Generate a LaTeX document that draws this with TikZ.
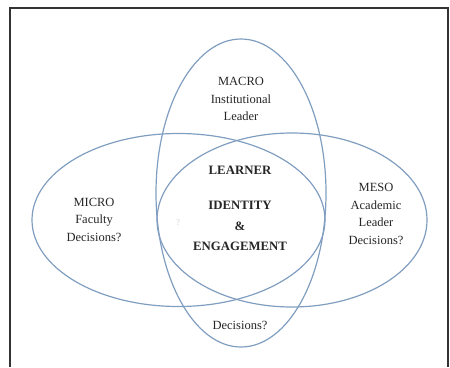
\documentclass[tikz,border=0pt]{standalone}
\usepackage{fontspec}
\setmainfont{Liberation Serif}

\begin{document}
\begin{tikzpicture}[
  x=1pt, y=-1pt,
  ring/.style={draw={rgb,255:red,128;green,158;blue,192}, line width=1.2pt},
  lbl/.style={align=center, inner sep=0pt, text=black!85, font=\fontsize{12.5}{17.5}\selectfont},
  core/.style={align=center, inner sep=0pt, text=black!85, font=\fontsize{12.8}{20.5}\selectfont\bfseries},
]

\useasboundingbox (0,0) rectangle (450,367);
\draw [line width=1.2pt, black!80] (10,367) -- (10,8) -- (448,8) -- (448,367);

\draw [ring] (178.5,220) ellipse [x radius=146.5pt, y radius=86.5pt];
\draw [ring] (292,220) ellipse [x radius=135pt, y radius=87pt];
\draw [ring] (241,193) ellipse [x radius=85pt, y radius=154pt];

\node [lbl] (macro) at (241,99) {MACRO\\Institutional\\Leader};
\node [lbl] (micro) at (94,219.5) {MICRO\\Faculty\\Decisions?};
\node [lbl] (meso) at (376,214) {MESO\\Academic\\Leader\\Decisions?};
\node [lbl] (dec) at (240,325) {Decisions?};

\node [core] (learner) at (240,170) {LEARNER};
\node [core] (identity) at (240,226) {IDENTITY\\\&\\ENGAGEMENT};
\node [lbl, text=gray!35, font=\small] (mark) at (178,223) {?};

\end{tikzpicture}
\end{document}
